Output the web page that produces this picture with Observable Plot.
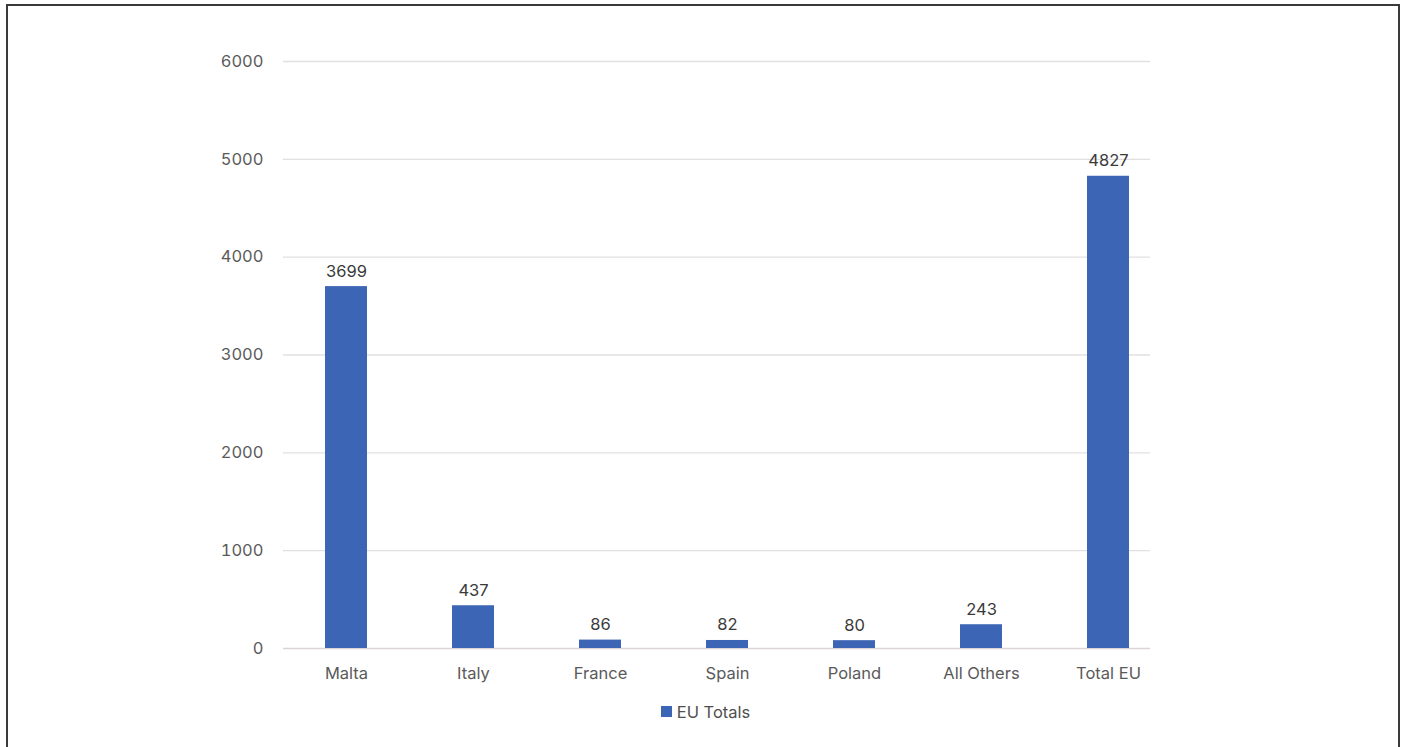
<!DOCTYPE html>
<html>
<head>
<meta charset="utf-8">
<script src="https://cdn.jsdelivr.net/npm/d3@7"></script>
<script src="https://cdn.jsdelivr.net/npm/@observablehq/plot@0.6"></script>
<style>
  html, body { margin: 0; padding: 0; background: #fff; }
  body { width: 1407px; height: 747px; position: relative; overflow: hidden; font-family: Inter, "Noto Sans", sans-serif; }
  #frame { position: absolute; left: 6px; top: 4px; width: 1394px; height: 760px; border: 2px solid #3a3a3a; border-bottom: none; box-sizing: border-box; }
  #chart { position: absolute; left: 0; top: 0; }
  #legend { position: absolute; top: 701px; left: 0; width: 1407px; text-align: center; font-size: 16.5px; color: #505050; }
  #legend .item { display: inline-flex; align-items: center; gap: 5px; margin-left: 4px; }
  #legend .swatch { width: 11px; height: 11px; display: inline-block; }
</style>
</head>
<body>
<div id="frame"></div>
<div id="chart"></div>
<div id="legend"></div>
<script>
// EU totals by country
const countries = ["Malta", "Italy", "France", "Spain", "Poland", "All Others", "Total EU"];
const totals = [3699, 437, 86, 82, 80, 243, 4827];
const yTicks = [0, 1000, 2000, 3000, 4000, 5000, 6000];
const seriesName = "EU Totals";
const barColor = "#3c65b5";

const rows = countries.map((c, i) => ({country: c, value: totals[i]}));

const chart = Plot.plot({
  width: 1407,
  height: 700,
  marginLeft: 283,
  marginRight: 257,
  marginTop: 61,
  marginBottom: 52,
  style: {fontFamily: "Inter, 'Noto Sans', sans-serif", fontSize: "16.5px", color: "#595959", background: "transparent"},
  x: {domain: countries, range: [282.5, 1171.5], paddingInner: 0.67, paddingOuter: 0.335, label: null},
  y: {domain: [0, 6000], range: [648, 61], label: null},
  marks: [
    Plot.ruleY(yTicks.filter(d => d > 0), {stroke: "#e3dfdf", strokeWidth: 1.3}),
    Plot.ruleY([0], {stroke: "#dcd4d4", strokeWidth: 1.3}),
    Plot.axisY({ticks: yTicks, tickSize: 0, tickPadding: 20, tickFormat: d => String(d), fill: "#5a5a5a", fontSize: 16.5}),
    Plot.axisX({tickSize: 0, tickPadding: 19, fill: "#5a5a5a", fontSize: 16.5}),
    Plot.barY(rows, {x: "country", y: "value", fill: barColor}),
    Plot.text(rows, {x: "country", y: "value", text: d => String(d.value), lineAnchor: "bottom", dy: -10, fill: "#3a3a3a", fontSize: 16.5})
  ]
});
document.getElementById("chart").appendChild(chart);

const legend = document.getElementById("legend");
legend.innerHTML = `<span class="item"><span class="swatch" style="background:${barColor}"></span>${seriesName}</span>`;
</script>
</body>
</html>
